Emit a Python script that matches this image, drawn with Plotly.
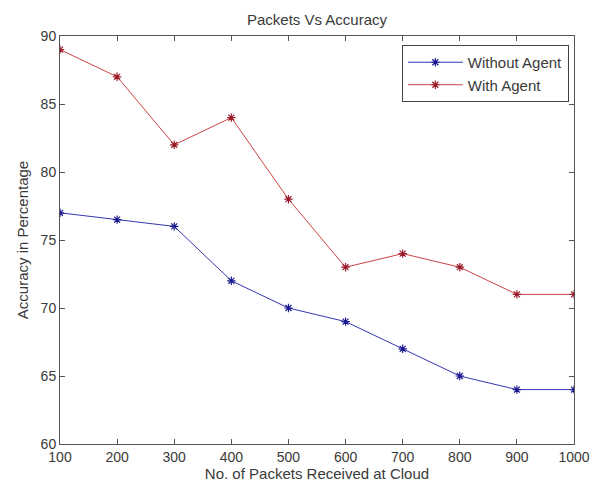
import plotly.graph_objects as go

packets = [100, 200, 300, 400, 500, 600, 700, 800, 900, 1000]
without_agent = [77, 76.5, 76, 72, 70, 69, 67, 65, 64, 64]
with_agent = [89, 87, 82, 84, 78, 73, 74, 73, 71, 71]
y_ticks = [60, 65, 70, 75, 80, 85, 90]

FONT = "Liberation Sans, Arial, sans-serif"
AX = "#555555"
TXT = "#3a3a3a"

fig = go.Figure()
fig.add_trace(go.Scatter(x=packets, y=without_agent, mode="lines+markers", name="Without Agent",
                         line=dict(color="#3535b0", width=1),
                         marker=dict(symbol="asterisk-open", size=7, color="#1a1a90", line=dict(width=1.2, color="#1a1a90"))))
fig.add_trace(go.Scatter(x=packets, y=with_agent, mode="lines+markers", name="With Agent",
                         line=dict(color="#cc4444", width=1),
                         marker=dict(symbol="asterisk-open", size=7, color="#9a1a2a", line=dict(width=1.2, color="#9a1a2a"))))

fig.update_layout(
    width=602, height=490,
    margin=dict(l=60, r=19, t=36, b=42),
    paper_bgcolor="white", plot_bgcolor="white",
    font=dict(family=FONT, size=14, color=TXT),
    title=dict(text="Packets Vs Accuracy", xref="paper", x=0.5, xanchor="center",
               yref="container", y=1 - 20 / 490, yanchor="middle",
               font=dict(family=FONT, size=15, color=TXT)),
    showlegend=True,
    legend=dict(x=0.99, xanchor="right", y=0.978, yanchor="top",
                bordercolor="#444444", borderwidth=1, bgcolor="white",
                font=dict(family=FONT, size=15, color=TXT),
                tracegroupgap=0, itemwidth=55),
    xaxis=dict(range=[100, 1000], tickvals=packets, ticks="inside", ticklen=5, tickcolor=AX,
               tickfont=dict(size=14),
               showline=True, linecolor=AX, linewidth=1, mirror="ticks", showgrid=False, zeroline=False,
               title=dict(text="No. of Packets Received at Cloud", standoff=3, font=dict(size=15))),
    yaxis=dict(range=[60, 90], tickvals=y_ticks, ticks="inside", ticklen=5, tickcolor=AX,
               tickfont=dict(size=14),
               showline=True, linecolor=AX, linewidth=1, mirror="ticks", showgrid=False, zeroline=False,
               title=dict(text="Accuracy in Percentage", standoff=8, font=dict(size=15))),
)

fig.write_html("out.html",
               config={"displayModeBar": False},
               post_script="document.body.style.margin='0';document.body.style.overflow='hidden';")
